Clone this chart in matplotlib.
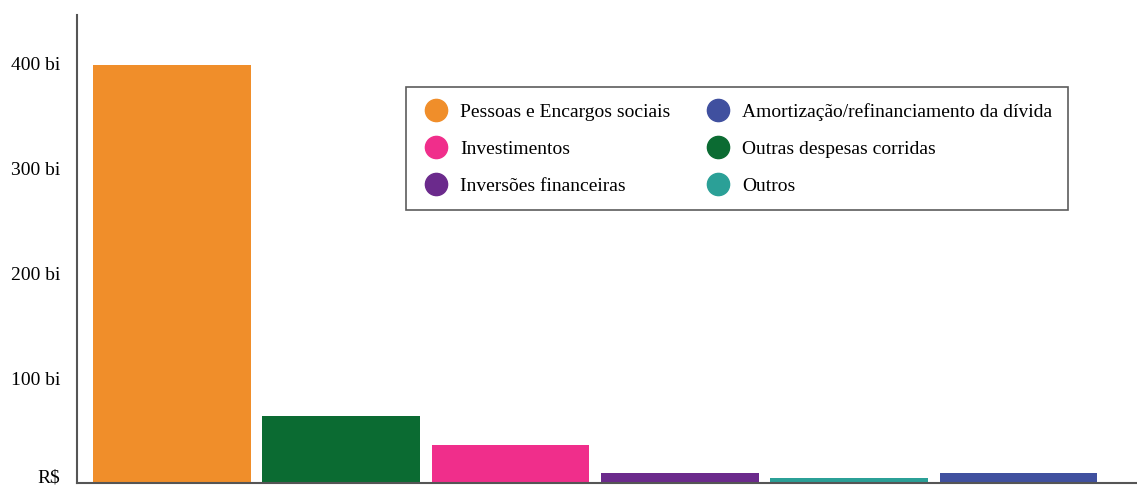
import matplotlib.pyplot as plt
from matplotlib.lines import Line2D
from matplotlib.transforms import ScaledTranslation

plt.rcParams['font.family'] = ['Liberation Serif', 'DejaVu Serif']

# bars, left to right
categories = ["Pessoas e Encargos sociais", "Outras despesas corridas", "Investimentos",
              "Inversões financeiras", "Outros", "Amortização/refinanciamento da dívida"]
values = [398, 64, 36, 10, 5, 10]  # bilhoes de R$
colors = ["#F08E2A", "#0B6B32", "#F02E8B", "#6B2A8C", "#2BA097", "#40509F"]

tick_vals = [0, 100, 200, 300, 400]
tick_labels = ["R$", "100 bi", "200 bi", "300 bi", "400 bi"]

# legend order (filled column by column)
legend_order = ["Pessoas e Encargos sociais", "Investimentos", "Inversões financeiras",
                "Amortização/refinanciamento da dívida", "Outras despesas corridas", "Outros"]

fig = plt.figure(figsize=(11.37, 4.91), dpi=100)
ax = fig.add_axes([0.0677, 0.0163, 0.9323, 0.953])

x = list(range(len(values)))
ax.bar(x, values, width=0.93, color=colors)

ax.set_xlim(-0.56, 5.70)
ax.set_ylim(0, 446)
ax.set_xticks([])
ax.set_yticks(tick_vals)
ax.set_yticklabels(tick_labels, fontsize=14)
ax.tick_params(axis='y', length=0, pad=12)
# "R$" sits a bit above the baseline so it is not cut
r_label = ax.get_yticklabels()[0]
r_label.set_transform(r_label.get_transform() + ScaledTranslation(0, 5 / 72, fig.dpi_scale_trans))

for s in ['top', 'right']:
    ax.spines[s].set_visible(False)
ax.spines['left'].set_color('#555555')
ax.spines['bottom'].set_color('#555555')
ax.spines['left'].set_linewidth(1.5)
ax.spines['bottom'].set_linewidth(1.5)

color_of = dict(zip(categories, colors))
handles = [Line2D([], [], marker='o', linestyle='none', markersize=16,
                  markerfacecolor=color_of[c], markeredgecolor=color_of[c]) for c in legend_order]
leg = ax.legend(handles, legend_order, ncol=2, loc='upper left', bbox_to_anchor=(0.31, 0.846),
                borderaxespad=0, fontsize=14, frameon=True, fancybox=False, edgecolor='#333333',
                borderpad=0.8, handletextpad=0.49, columnspacing=1.73, labelspacing=1.0,
                handlelength=1.5)
leg.get_frame().set_linewidth(1.2)

fig.savefig("out.png", dpi=100)
